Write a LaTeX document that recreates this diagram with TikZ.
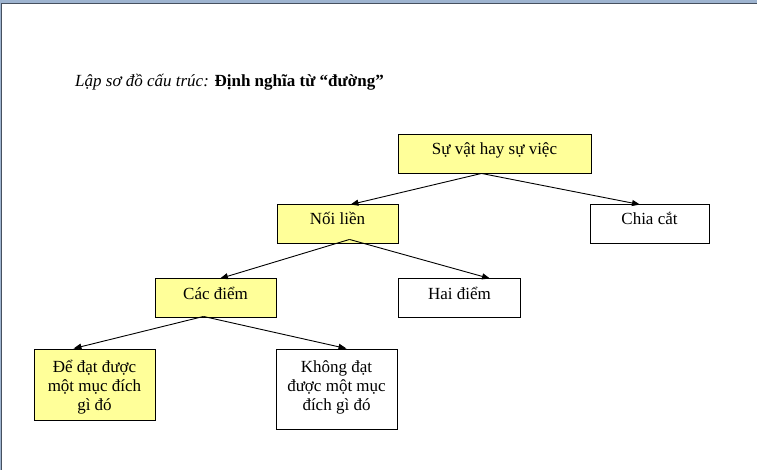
\documentclass[tikz,border=0pt]{standalone}
\usepackage{fontspec}
\setmainfont{Liberation Serif}
\usetikzlibrary{arrows.meta, positioning}
\definecolor{boxyellow}{RGB}{255,255,153}
\definecolor{framebar}{RGB}{158,180,208}
\definecolor{frameline}{RGB}{70,80,95}
\newcommand{\boxfont}{\fontsize{17}{19}\selectfont}
\newcommand{\boxline}[1]{\rule[-4pt]{0pt}{14pt}\smash{#1}}

\begin{document}
\begin{tikzpicture}[x=1pt, y=-1pt,
    every node/.style={font=\boxfont},
    frame/.style={shape=rectangle, draw=black, line width=0.9pt, align=center, inner sep=0pt},
    box/.style={frame, minimum height=39pt, text height=13.5pt, text depth=10.5pt},
    tallbox/.style={frame},
    yellow/.style={fill=boxyellow},
    arr/.style={-{Triangle[length=8pt,width=6pt]}, line width=0.9pt}]
    \useasboundingbox (0,0) rectangle (757,470);
    % page frame
    \fill[framebar] (0,0) rectangle (757,3);
    \fill[framebar] (0,0) rectangle (1,470);
    \draw[frameline, line width=1pt] (1.5,470) -- (1.5,3.5) -- (757,3.5);

    \node[anchor=base west, inner sep=0pt] (title) at (75,87) {\textit{Lập sơ đồ cấu trúc:} \textbf{Định nghĩa từ “đường”}};

    \node[box, yellow, minimum width=193pt] (sv) at (494.5,153.5) {Sự vật hay sự việc};
      \node[box, yellow, minimum width=121pt] (nl) at (337.5,223.5) {Nối liền};
      \node[box, minimum width=119pt] (cc) at (649.5,223.5) {Chia cắt};
      \node[box, yellow, minimum width=121pt] (cd) at (215.5,297.5) {Các điểm};
      \node[box, minimum width=122pt] (hd) at (459.5,297.5) {Hai điểm};
      \node[tallbox, yellow, minimum width=121pt, minimum height=71pt] (dd) at (94.5,384.5)
        {\rule{0pt}{18pt}\boxline{Để đạt được}\\\boxline{một mục đích}\\\boxline{gì đó}\rule[-5pt]{0pt}{5pt}};
      \node[tallbox, minimum width=121pt, minimum height=80pt] (kd) at (336.5,389)
        {\rule{0pt}{18pt}\boxline{Không đạt}\\\boxline{được một mục}\\\boxline{đích gì đó}\rule[-14pt]{0pt}{14pt}};

      \path [arr] ([xshift=-13pt]sv.south) edge ([xshift=13pt,yshift=-1pt]nl.north);
      \path [arr] ([xshift=-13pt]sv.south) edge ([xshift=-9.5pt,yshift=-1pt]cc.north);
      \path [arr] ([xshift=12pt,yshift=4pt]nl.south) edge ([xshift=4.5pt,yshift=-1pt]cd.north);
      \path [arr] ([xshift=12pt,yshift=4pt]nl.south) edge ([xshift=30.5pt,yshift=-1pt]hd.north);
      \path [arr] ([xshift=-12pt,yshift=1pt]cd.south) edge ([xshift=-21pt]dd.north);
      \path [arr] ([xshift=-12pt,yshift=1pt]cd.south) edge ([xshift=10pt]kd.north);
  \end{tikzpicture}
\end{document}
